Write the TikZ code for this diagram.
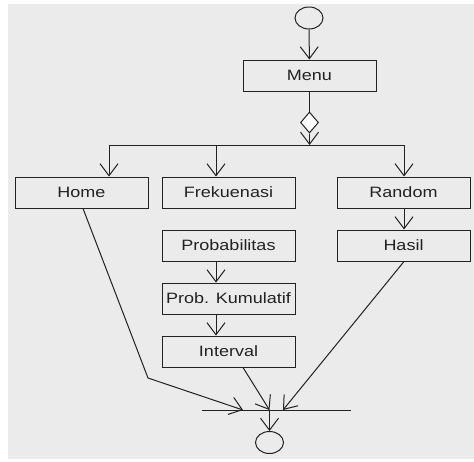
\documentclass[tikz,border=0pt]{standalone}
\usepackage{fontspec}
\newfontfamily\diafont[FakeStretch=1.2]{Liberation Sans}
\usetikzlibrary{arrows.meta,shapes.geometric}
\definecolor{bgc}{HTML}{EBEBEB}
\definecolor{ink}{HTML}{222222}
\begin{document}
\begin{tikzpicture}[x=1pt,y=-1pt,
  box/.style={draw=ink,line width=1pt,rectangle,minimum width=133pt,minimum height=31pt,inner sep=0pt,font=\diafont\fontsize{15}{18}\selectfont,text=ink},
  ln/.style={draw=ink,line width=1pt},
  arr/.style={ln,-{Straight Barb[length=12pt,width=18pt]}},
  circ/.style={draw=ink,line width=1pt,ellipse,minimum width=28pt,minimum height=22pt,inner sep=0pt},
  gate/.style={draw=ink,fill=white,line width=1pt,diamond,minimum width=18pt,minimum height=21pt,inner sep=0pt}]
\useasboundingbox (0,0) rectangle (474,461);
\fill[bgc] (8,4) rectangle (474,459);
\node[circ] (start) at (309,18) {};
\node[box] (menu) at (309.5,75.5) {Menu};
\node[gate] (dia) at (309.5,122.5) {};
\node[box] (home) at (81.5,192.5) {Home};
\node[box] (frek) at (228.5,192.5) {Frekuenasi};
\node[box] (random) at (403.5,192.5) {Random};
\node[box] (prob) at (228.5,245.5) {Probabilitas};
\node[box] (hasil) at (403.5,245.5) {Hasil};
\node[box] (pk) at (228.5,298.5) {Prob. Kumulatif};
\node[box] (interval) at (228.5,351.5) {Interval};
\node[circ] (end) at (269.5,442.5) {};
\coordinate (forkM) at (309.5,145);
\coordinate (forkL) at (109,145);
\coordinate (forkF) at (216,145);
\coordinate (forkR) at (404,145);
\coordinate (joinL) at (202,410);
\coordinate (joinR) at (351,410);
\coordinate (jH) at (243,410);
\coordinate (jI) at (269.5,410);
\coordinate (jR) at (283,410);
\coordinate (hbend) at (148,378);
\coordinate (hx) at (83,0);
\coordinate (ix) at (243,0);
\draw[arr] (start) -- (menu);
\draw[ln] (menu) -- (dia);
\draw[arr] (dia) -- (forkM);
\draw[ln] (forkL) -- (forkR);
\draw[arr] (forkL) -- (home.north -| forkL);
\draw[arr] (forkF) -- (frek.north -| forkF);
\draw[arr] (forkR) -- (random.north -| forkR);
\draw[arr] (random.south -| forkR) -- (hasil.north -| forkR);
\draw[arr] (prob.south -| forkF) -- (pk.north -| forkF);
\draw[arr] (pk.south -| forkF) -- (interval.north -| forkF);
\draw[ln] (joinL) -- (joinR);
\draw[arr] (home.south -| hx) -- (hbend) -- (jH);
\draw[arr] (interval.south -| ix) -- (jI);
\draw[arr] (hasil.south -| forkR) -- (jR);
\draw[arr] (jI) -- (end);
\end{tikzpicture}
\end{document}
